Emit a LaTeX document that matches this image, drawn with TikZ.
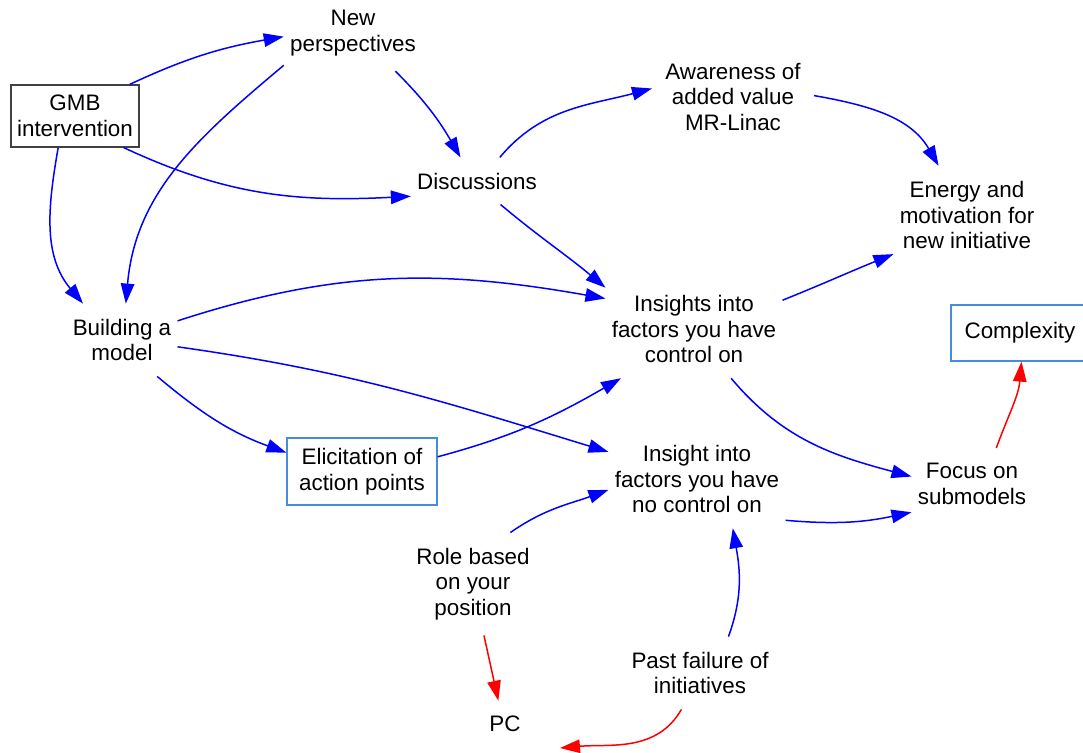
\documentclass[tikz,border=0pt]{standalone}
\usepackage{fontspec}
\setmainfont{Liberation Sans}
\usetikzlibrary{arrows.meta}
\definecolor{boxblue}{RGB}{70,140,220}
\definecolor{boxgray}{RGB}{64,64,64}

\begin{document}
\begin{tikzpicture}[
  font=\fontsize{12.75}{14.6}\selectfont,
  var/.style={align=center,inner xsep=0.12cm,inner ysep=0.3cm},
  box/.style={align=center,inner sep=0pt,line width=0.7pt},
  poslink/.style={blue,line width=0.85pt,-{Triangle[length=0.4cm,width=0.27cm]}},
  neglink/.style={red,line width=0.85pt,-{Triangle[length=0.4cm,width=0.27cm]}}
]
\useasboundingbox (0,0) rectangle (21.66,15.04);
% variables
\node[box,draw=boxgray,minimum width=2.56cm,minimum height=1.24cm] (gmb) at (1.50,12.72) {GMB\\intervention};
\node[var] (newp) at (7.06,14.38) {New\\perspectives};
\node[var] (disc) at (9.54,11.42) {Discussions};
\node[var,inner xsep=0.26cm] (aware) at (14.66,13.10) {Awareness of\\added value\\MR-Linac};
\node[var] (energy) at (19.34,10.74) {Energy and\\motivation for\\new initiative};
\node[var] (build) at (2.44,8.24) {Building a\\model};
\node[var] (inctrl) at (13.88,8.46) {Insights into\\factors you have\\control on};
\node[box,draw=boxblue,minimum width=2.76cm,minimum height=1.12cm] (cplx) at (20.40,8.38) {Complexity};
\node[box,draw=boxblue,minimum width=3.0cm,minimum height=1.34cm] (elic) at (7.24,5.61) {Elicitation of\\action points};
\node[var] (nctrl) at (13.94,5.46) {Insight into\\factors you have\\no control on};
\node[var] (focus) at (19.44,5.36) {Focus on\\submodels};
\node[var] (role) at (9.46,3.36) {Role based\\on your\\position};
\node[var] (past) at (14.00,1.58) {Past failure of\\initiatives};
\node[var] (pc) at (10.10,0.56) {PC};
\coordinate (pcend) at (11.20,0.08);
% links
\draw[poslink] (gmb.30) to[out=25,in=190] (newp.183);
\draw[poslink] (gmb.-33) to[out=-25,in=183] (disc.193);
\draw[poslink] (gmb.-118) to[out=-100,in=130] (build.137);
\draw[poslink] (newp.205) to[out=220,in=85] (build.84);
\draw[poslink] (newp.-42) to[out=-45,in=120] (disc.125);
\draw[poslink] (disc.46) to[out=50,in=195] (aware.174);
\draw[poslink] (aware.1) to[out=-10,in=120] (energy.120);
\draw[poslink] (disc.-45) to[out=-40,in=140] (inctrl.155);
\draw[poslink] (build.19) to[out=18,in=170] (inctrl.161);
\draw[poslink] (build.-7) to[out=-8,in=163] (nctrl.163);
\draw[poslink] (build.-46) to[out=-40,in=160] (elic.166);
\draw[poslink] (elic.11) to[out=15,in=210] (inctrl.214);
\draw[poslink] (inctrl.18) to[out=22,in=202] (energy.208);
\draw[poslink] (inctrl.-53) to[out=-50,in=165] (focus.173);
\draw[poslink] (nctrl.-25) to[out=-5,in=192] (focus.205);
\draw[poslink] (role.54) to[out=35,in=200] (nctrl.187);
\draw[poslink] (past.52) to[out=70,in=-80] (nctrl.-54);
\draw[neglink] (role.-78) -- (pc.106);
\draw[neglink] (past.-117) to[out=-120,in=5] (pcend);
\draw[neglink] (focus.56) to[out=70,in=-95] (cplx.-87);
\end{tikzpicture}
\end{document}
